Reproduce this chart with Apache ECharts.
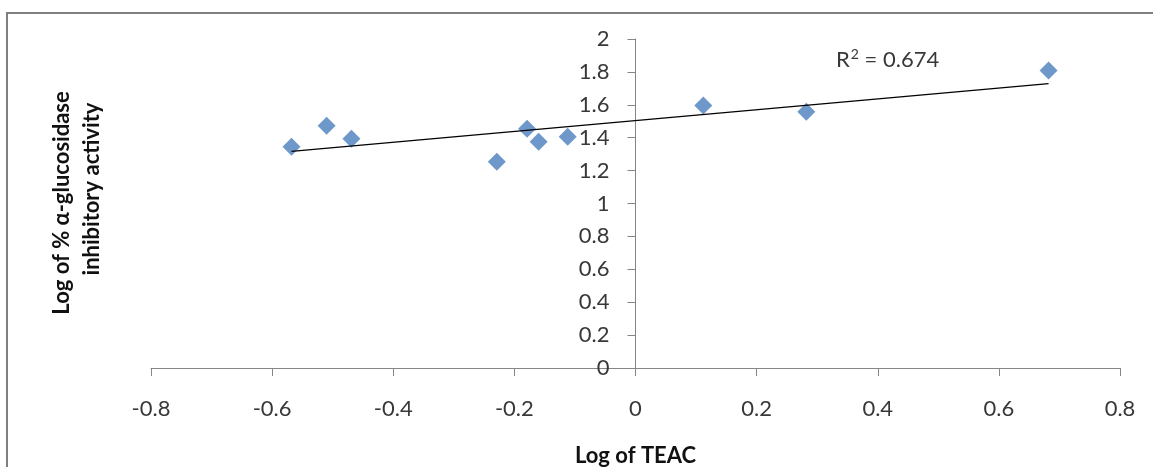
<!DOCTYPE html>
<html>
<head>
<meta charset="utf-8">
<script src="https://cdn.jsdelivr.net/npm/echarts@6/dist/echarts.min.js"></script>
<style>
  html, body { margin: 0; padding: 0; background: #fff; }
  #chart { width: 1153px; height: 467px; }
</style>
</head>
<body>
<div id="chart"></div>
<script>
// 数据：Log of TEAC 与 Log of % α-glucosidase 抑制活性
const logTEAC = [-0.568, -0.510, -0.469, -0.229, -0.179, -0.160, -0.112, 0.112, 0.282, 0.682];
const logInhibition = [1.345, 1.473, 1.394, 1.254, 1.455, 1.376, 1.406, 1.595, 1.558, 1.808];
const rSquaredValue = '0.674';

const FONT = 'Lato, "Open Sans", sans-serif';
const AXIS_GREY = '#868686';
const TEXT_COLOR = '#383838';

const GRID = { left: 151, right: 33, top: 39, bottom: 99 };
const X_MIN = -0.8, X_MAX = 0.8;

// 线性趋势线（最小二乘）
function fitLine(xs, ys) {
  const n = xs.length;
  const mx = xs.reduce((a, b) => a + b, 0) / n;
  const my = ys.reduce((a, b) => a + b, 0) / n;
  let sxy = 0, sxx = 0;
  for (let i = 0; i < n; i++) {
    sxy += (xs[i] - mx) * (ys[i] - my);
    sxx += (xs[i] - mx) * (xs[i] - mx);
  }
  const k = sxy / sxx;
  return { k, b: my - k * mx };
}

const fit = fitLine(logTEAC, logInhibition);
const xMin = Math.min(...logTEAC), xMax = Math.max(...logTEAC);
const trend = [[xMin, fit.k * xMin + fit.b], [xMax, fit.k * xMax + fit.b]];

// y 轴放在 x = 0 处（标签随轴一起移动）
const plotW = 1153 - GRID.left - GRID.right;
const yAxisOffset = -plotW * (0 - X_MIN) / (X_MAX - X_MIN);

const chart = echarts.init(document.getElementById('chart'));
chart.setOption({
  backgroundColor: '#ffffff',
  animation: false,
  grid: Object.assign({ containLabel: false, outerBoundsMode: 'none' }, GRID),
  xAxis: {
    type: 'value',
    min: X_MIN, max: X_MAX, interval: 0.2,
    name: 'Log of TEAC',
    nameLocation: 'middle',
    nameGap: 77,
    nameTextStyle: { fontFamily: FONT, fontSize: 22, fontWeight: 'bold', color: '#111' },
    axisLine: { show: true, onZero: false, lineStyle: { color: AXIS_GREY, width: 1 } },
    axisTick: { show: true, length: 8, lineStyle: { color: AXIS_GREY } },
    axisLabel: { fontFamily: FONT, fontSize: 22, color: TEXT_COLOR, margin: 30 },
    splitLine: { show: false }
  },
  yAxis: {
    type: 'value',
    position: 'left',
    offset: yAxisOffset,
    min: 0, max: 2, interval: 0.2,
    axisLine: { show: true, onZero: false, lineStyle: { color: AXIS_GREY, width: 1 } },
    axisTick: { show: true, length: 8, lineStyle: { color: AXIS_GREY } },
    axisLabel: { fontFamily: FONT, fontSize: 22, color: TEXT_COLOR, margin: 26 },
    splitLine: { show: false }
  },
  series: [{
    type: 'scatter',
    symbol: 'diamond',
    symbolSize: 18,
    itemStyle: { color: '#4A7EBB' },
    data: logTEAC.map((x, i) => [x, logInhibition[i]]),
    z: 3
  }, {
    type: 'line',
    data: trend,
    showSymbol: false,
    lineStyle: { color: '#000', width: 1.2 },
    z: 4
  }],
  graphic: [{
    type: 'rect',
    shape: { x: 7, y: 13, width: 1170, height: 480 },
    style: { fill: 'none', stroke: '#7f7f7f', lineWidth: 2 },
    silent: true
  }, {
    type: 'text',
    x: 836, y: 59,
    style: {
      text: '{r|R}{sup|2}{r| = ' + rSquaredValue + '}',
      textAlign: 'left', textVerticalAlign: 'middle',
      rich: {
        r: { fontFamily: FONT, fontSize: 22, fill: TEXT_COLOR, verticalAlign: 'bottom', lineHeight: 24 },
        sup: { fontFamily: FONT, fontSize: 14, fill: TEXT_COLOR, verticalAlign: 'top', lineHeight: 24, padding: [0, 0, 0, 1] }
      }
    }
  }, {
    type: 'text',
    x: 62, y: 203,
    rotation: Math.PI / 2,
    style: {
      text: 'Log of % α-glucosidase',
      fontFamily: FONT, fontSize: 22, fontWeight: 'bold', fill: '#111',
      textAlign: 'center', textVerticalAlign: 'middle'
    }
  }, {
    type: 'text',
    x: 92, y: 189,
    rotation: Math.PI / 2,
    style: {
      text: 'inhibitory activity',
      fontFamily: FONT, fontSize: 22, fontWeight: 'bold', fill: '#111',
      textAlign: 'center', textVerticalAlign: 'middle'
    }
  }]
});
</script>
</body>
</html>
